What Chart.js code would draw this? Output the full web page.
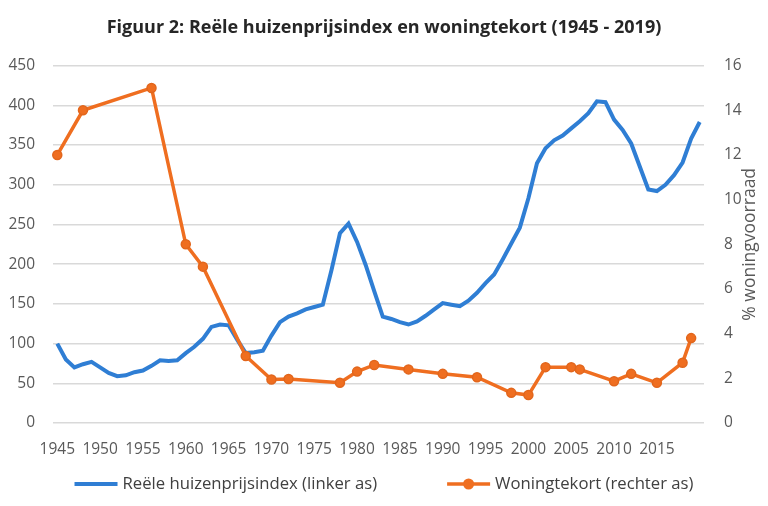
<!DOCTYPE html>
<html>
<head>
<meta charset="utf-8">
<script src="https://cdn.jsdelivr.net/npm/chart.js@4.4.1/dist/chart.umd.min.js"></script>
<style>
    html, body { margin: 0; padding: 0; background: #fff; }
    #wrap { width: 768px; height: 506px; }
</style>
</head>
<body>
<div id="wrap"><canvas id="canvas"></canvas></div>
<script>
// categories: one per year
const years = [
    1945, 1946, 1947, 1948, 1949, 1950, 1951, 1952, 1953, 1954,
    1955, 1956, 1957, 1958, 1959, 1960, 1961, 1962, 1963, 1964,
    1965, 1966, 1967, 1968, 1969, 1970, 1971, 1972, 1973, 1974,
    1975, 1976, 1977, 1978, 1979, 1980, 1981, 1982, 1983, 1984,
    1985, 1986, 1987, 1988, 1989, 1990, 1991, 1992, 1993, 1994,
    1995, 1996, 1997, 1998, 1999, 2000, 2001, 2002, 2003, 2004,
    2005, 2006, 2007, 2008, 2009, 2010, 2011, 2012, 2013, 2014,
    2015, 2016, 2017, 2018, 2019, 2020
];

// Reele huizenprijsindex (linker as)
const prijsindex = [
    100, 80, 70, 74, 77, 70, 63, 59, 60, 64,
    66, 72, 79, 78, 79, 88, 96, 106, 121, 124,
    123, 105, 88, 89, 91, 110, 127, 134, 138, 143,
    146, 149, 192, 239, 251, 228, 199, 166, 134, 131,
    127, 124, 128, 135, 143, 151, 149, 147, 154, 164,
    176, 187, 206, 226, 246, 283, 327, 346, 356, 362,
    371, 380, 390, 405, 404, 382, 369, 352, 323, 294,
    292, 300, 312, 328, 358, 379
];

// Woningtekort (rechter as), only measured years
const tekortYears = [1945, 1948, 1956, 1960, 1962, 1967, 1970, 1972, 1978, 1980, 1982, 1986,
                     1990, 1994, 1998, 2000, 2002, 2005, 2006, 2010, 2012, 2015, 2018, 2019];
const tekortValues = [12, 14, 15, 8, 7, 3, 1.95, 1.97, 1.8, 2.3, 2.6, 2.4,
                      2.2, 2.05, 1.35, 1.25, 2.5, 2.5, 2.4, 1.87, 2.2, 1.8, 2.7, 3.8];

const xTickLabels = ['1945', '1950', '1955', '1960', '1965', '1970', '1975', '1980',
                     '1985', '1990', '1995', '2000', '2005', '2010', '2015'];

const blue = '#2f7ed4';
const orange = '#ef6e20';
const tickColor = '#595959';

Chart.defaults.font.family = "'Open Sans', sans-serif";

// right axis title reads bottom to top
const sideTitle = {
    id: 'sideTitle',
    afterDraw(chart) {
        const s = chart.scales.y1;
        const c = chart.ctx;
        c.save();
        c.translate(s.right - 18, (s.top + s.bottom) / 2);
        c.rotate(-Math.PI / 2);
        c.font = "17.5px 'Open Sans', sans-serif";
        c.fillStyle = tickColor;
        c.textAlign = 'center';
        c.textBaseline = 'middle';
        c.fillText('% woningvoorraad', 0, 0);
        c.restore();
    }
};

// Excel style legend: line sample (with marker) then the label
const bottomLegend = {
    id: 'bottomLegend',
    afterDraw(chart) {
        const c = chart.ctx;
        const y = chart.height - 22;
        const sample = 43, gapText = 5, gapItem = 70;
        c.save();
        c.font = "16.7px 'Open Sans', sans-serif";
        const items = chart.data.datasets.map(d => ({
            text: d.label,
            color: d.borderColor,
            width: d.borderWidth,
            marker: d.pointRadius > 0,
            tw: c.measureText(d.label).width
        }));
        let total = 0;
        items.forEach((it, i) => { total += sample + gapText + it.tw + (i ? gapItem : 0); });
        let x = (chart.width - total) / 2;
        items.forEach(it => {
            c.strokeStyle = it.color;
            c.lineWidth = it.width;
            c.beginPath();
            c.moveTo(x, y);
            c.lineTo(x + sample, y);
            c.stroke();
            if (it.marker) {
                c.fillStyle = it.color;
                c.beginPath();
                c.arc(x + sample / 2, y, 5.5, 0, Math.PI * 2);
                c.fill();
            }
            c.fillStyle = '#404040';
            c.textAlign = 'left';
            c.textBaseline = 'middle';
            c.fillText(it.text, x + sample + gapText, y);
            x += sample + gapText + it.tw + gapItem;
        });
        c.restore();
    }
};

new Chart(document.getElementById('canvas'), {
    type: 'line',
    data: {
        labels: years,
        datasets: [
            {
                label: 'Reële huizenprijsindex (linker as)',
                data: prijsindex,
                yAxisID: 'y',
                borderColor: blue,
                backgroundColor: blue,
                borderWidth: 4,
                pointRadius: 0,
                tension: 0,
                order: 1
            },
            {
                label: 'Woningtekort (rechter as)',
                data: tekortYears.map((j, i) => ({ x: j, y: tekortValues[i] })),
                yAxisID: 'y1',
                borderColor: orange,
                backgroundColor: orange,
                borderWidth: 3.5,
                pointRadius: 4.5,
                pointBorderColor: '#e2661c',
                pointBorderWidth: 1.5,
                pointBackgroundColor: orange,
                tension: 0,
                order: 0
            }
        ]
    },
    options: {
        responsive: true,
        maintainAspectRatio: false,
        animation: false,
        layout: { padding: { left: 0, right: 0, top: 0, bottom: 40 } },
        plugins: {
            title: {
                display: true,
                text: 'Figuur 2: Reële huizenprijsindex en woningtekort (1945 - 2019)',
                color: '#262626',
                font: { size: 18, weight: 'bold' },
                padding: { top: 17, bottom: 27 }
            },
            legend: { display: false },
            tooltip: { enabled: false }
        },
        scales: {
            x: {
                type: 'category',
                offset: true,
                grid: { display: false },
                border: { display: false },
                ticks: {
                    autoSkip: false,
                    maxRotation: 0,
                    color: tickColor,
                    font: { size: 15.5 },
                    padding: 9,
                    callback(v) {
                        const lab = String(this.getLabelForValue(v));
                        return xTickLabels.includes(lab) ? lab : '';
                    }
                },
                afterFit(s) { s.height = 43; }
            },
            y: {
                position: 'left',
                min: 0,
                max: 450,
                ticks: { stepSize: 50, color: tickColor, font: { size: 15.5 }, padding: 18 },
                grid: { color: '#d9d9d9', lineWidth: 1.5, drawTicks: false },
                border: { display: false },
                afterFit(s) { s.width = 53; }
            },
            y1: {
                position: 'right',
                min: 0,
                max: 16,
                ticks: { stepSize: 2, color: tickColor, font: { size: 15.5 }, padding: 20 },
                grid: { drawOnChartArea: false, drawTicks: false },
                border: { display: false },
                afterFit(s) { s.width = 64; }
            }
        }
    },
    plugins: [sideTitle, bottomLegend]
});
</script>
</body>
</html>
